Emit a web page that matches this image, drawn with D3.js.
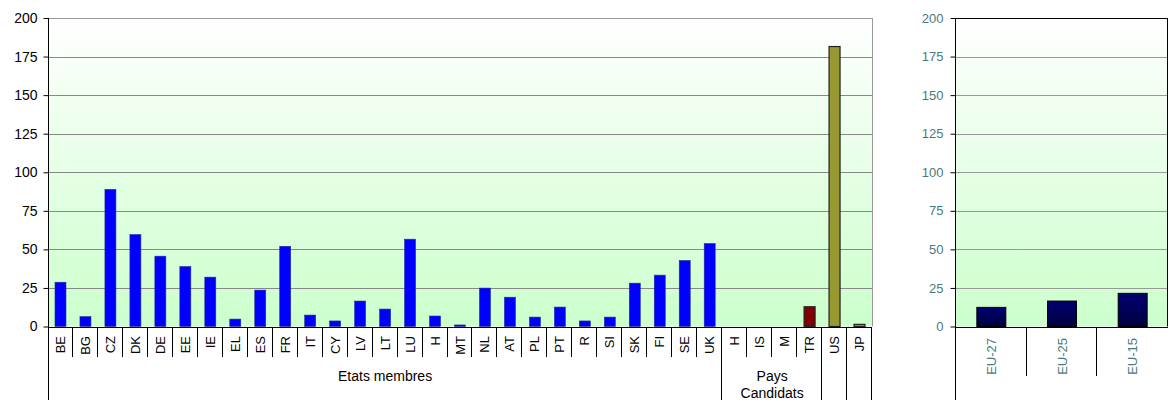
<!DOCTYPE html>
<html><head><meta charset="utf-8">
<script src="https://cdn.jsdelivr.net/npm/d3@7"></script>
<style>
body{margin:0;background:#fff;}
svg{display:block;font-family:"Liberation Sans",Arial,sans-serif;}
</style></head><body>
<svg id="c" width="1170" height="400"></svg>
<script>
const memberCats = ["BE","BG","CZ","DK","DE","EE","IE","EL","ES","FR","IT","CY","LV","LT","LU","H","MT","NL","AT","PL","PT","R","SI","SK","FI","SE","UK"];
const memberVals = [28.7,6.4,88.9,59.6,45.6,38.9,32,4.8,23.6,52,7.4,3.6,16.5,11.3,56.6,6.8,1,24.9,19,6.1,12.6,3.6,6.1,28.1,33.3,42.8,53.8];
const candCats = ["H","IS","M","TR"];
const candVals = [0,0,0,12.8];
const otherCats = ["US","JP"];
const otherVals = [181.5,1.4];
const euCats = ["EU-27","EU-25","EU-15"];
const euVals = [12.4,16.5,21.5];
const yTicks = [0,25,50,75,100,125,150,175,200];
const groupLabels = ["Etats membres","Pays|Candidats"];

const svg = d3.select("#c");
const defs = svg.append("defs");
const g1 = defs.append("linearGradient").attr("id","bg").attr("x1",0).attr("y1",0).attr("x2",0).attr("y2",1);
g1.append("stop").attr("offset","0%").attr("stop-color","#ffffff");
g1.append("stop").attr("offset","100%").attr("stop-color","#ccffcc");
const g2 = defs.append("linearGradient").attr("id","eu").attr("x1",0).attr("y1",0).attr("x2",0).attr("y2",1);
g2.append("stop").attr("offset","0%").attr("stop-color","#000070");
g2.append("stop").attr("offset","100%").attr("stop-color","#000040");

// ---------- Left chart ----------
const L = {x0:48, x1:872, top:18, bottom:326.5};
const allCats = memberCats.concat(candCats, otherCats);
const allVals = memberVals.concat(candVals, otherVals);
const colors = allCats.map((c,i)=> i<memberCats.length ? "#0000ff" : (i<memberCats.length+candCats.length ? "#800000" : "#999933"));
const strokes = allCats.map((c,i)=> i<memberCats.length ? "#2a2a9a" : "#222");
const x = d3.scaleBand().domain(d3.range(allCats.length)).range([L.x0,L.x1]).paddingInner(0.56).paddingOuter(0.28);
const y = d3.scaleLinear().domain([0,200]).range([L.bottom,L.top]);
const step = x.step();

svg.append("rect").attr("x",L.x0).attr("y",L.top).attr("width",L.x1-L.x0).attr("height",L.bottom-L.top).attr("fill","url(#bg)");
svg.append("g").selectAll("line").data(yTicks.filter(t=>t>0)).join("line")
  .attr("x1",L.x0).attr("x2",L.x1).attr("y1",d=>Math.round(y(d))+0.5).attr("y2",d=>Math.round(y(d))+0.5)
  .attr("stroke",d=>d===200?"#999":"#888").attr("stroke-width",1);
svg.append("line").attr("x1",L.x1+0.5).attr("x2",L.x1+0.5).attr("y1",L.top).attr("y2",L.bottom).attr("stroke","#999");

svg.append("g").selectAll("rect").data(allVals).join("rect")
  .filter(d=>d>0)
  .attr("x",(d,i,n)=>0).remove();
const barsData = allVals.map((v,i)=>({v,i})).filter(d=>d.v>0);
svg.append("g").selectAll("rect").data(barsData).join("rect")
  .attr("x",d=>x(d.i)).attr("width",x.bandwidth())
  .attr("y",d=>y(d.v)).attr("height",d=>y(0)-y(d.v))
  .attr("fill",d=>colors[d.i]).attr("stroke",d=>strokes[d.i])
  .attr("stroke-width",d=>d.i>=memberCats.length?1.2:0.6);

const yAxisL = d3.axisLeft(y).tickValues(yTicks).tickSize(5).tickPadding(6);
const ga = svg.append("g").attr("transform",`translate(${L.x0+0.5},0)`).call(yAxisL);
ga.select(".domain").remove();
ga.selectAll("line").attr("stroke","#000");
ga.selectAll("text").attr("font-size",14).attr("fill","#000").attr("font-family","Liberation Sans, Arial, sans-serif");
svg.append("line").attr("x1",L.x0+0.5).attr("x2",L.x0+0.5).attr("y1",L.top).attr("y2",400).attr("stroke","#000");
svg.append("line").attr("x1",L.x0).attr("x2",L.x1).attr("y1",Math.round(y(0))+0.5).attr("y2",Math.round(y(0))+0.5).attr("stroke","#000");

// separators
const sepY0 = Math.round(y(0));
const groupBounds = [memberCats.length, memberCats.length+candCats.length, memberCats.length+candCats.length+1, allCats.length];
d3.range(1,allCats.length+1).forEach(k=>{
  const xp = Math.round(L.x0 + k*step)-0.5;
  const long = groupBounds.includes(k);
  svg.append("line").attr("x1",xp).attr("x2",xp).attr("y1",sepY0).attr("y2",long?400:357).attr("stroke","#000");
});
// category labels
svg.append("g").selectAll("text").data(allCats).join("text")
  .attr("transform",(d,i)=>`translate(${x(i)+x.bandwidth()/2+4.5},336) rotate(-90)`)
  .attr("text-anchor","end").attr("font-size",13).attr("fill","#000").text(d=>d);
// group labels
const memCenter = L.x0 + memberCats.length*step/2;
svg.append("text").attr("x",memCenter).attr("y",381).attr("text-anchor","middle").attr("font-size",14).text(groupLabels[0]);
const candCenter = L.x0 + (memberCats.length + candCats.length/2)*step;
groupLabels[1].split("|").forEach((t,j)=>{
  svg.append("text").attr("x",candCenter).attr("y",381+17*j).attr("text-anchor","middle").attr("font-size",14).text(t);
});

// ---------- Right chart ----------
const R = {x0:956, x1:1168, top:18, bottom:326.5};
const x2 = d3.scaleBand().domain(euCats).range([R.x0,R.x1]).paddingInner(0.59).paddingOuter(0.295);
const y2 = d3.scaleLinear().domain([0,200]).range([R.bottom,R.top]);
const teal = "#4a7a7a";
svg.append("rect").attr("x",R.x0).attr("y",R.top).attr("width",R.x1-R.x0).attr("height",R.bottom-R.top).attr("fill","url(#bg)");
svg.append("g").selectAll("line").data(yTicks.filter(t=>t>0&&t<200)).join("line")
  .attr("x1",R.x0).attr("x2",R.x1).attr("y1",d=>Math.round(y2(d))+0.5).attr("y2",d=>Math.round(y2(d))+0.5)
  .attr("stroke","#999").attr("stroke-width",1);
svg.append("line").attr("x1",R.x0).attr("x2",R.x1).attr("y1",Math.round(y2(200))+0.5).attr("y2",Math.round(y2(200))+0.5).attr("stroke","#000");
svg.append("line").attr("x1",R.x1-0.5).attr("x2",R.x1-0.5).attr("y1",R.top).attr("y2",R.bottom).attr("stroke","#000");
svg.append("g").selectAll("rect").data(euVals).join("rect")
  .attr("x",(d,i)=>x2(euCats[i])).attr("width",x2.bandwidth())
  .attr("y",d=>y2(d)).attr("height",d=>y2(0)-y2(d))
  .attr("fill","url(#eu)").attr("stroke","#000").attr("stroke-width",1);
const ga2 = svg.append("g").attr("transform",`translate(${R.x0-0.5},0)`).call(d3.axisLeft(y2).tickValues(yTicks).tickSize(5).tickPadding(7));
ga2.select(".domain").remove();
ga2.selectAll("line").attr("stroke","#000");
ga2.selectAll("text").attr("font-size",13).attr("fill",teal).attr("font-family","Liberation Sans, Arial, sans-serif");
svg.append("line").attr("x1",R.x0-0.5).attr("x2",R.x0-0.5).attr("y1",R.top).attr("y2",400).attr("stroke","#000");
svg.append("line").attr("x1",R.x0).attr("x2",R.x1).attr("y1",Math.round(y2(0))+0.5).attr("y2",Math.round(y2(0))+0.5).attr("stroke","#000");
const step2 = x2.step();
[1,2].forEach(k=>{
  const xp = Math.round(R.x0 + k*step2)-0.5;
  svg.append("line").attr("x1",xp).attr("x2",xp).attr("y1",Math.round(y2(0))).attr("y2",376).attr("stroke","#000");
});
svg.append("g").selectAll("text").data(euCats).join("text")
  .attr("transform",d=>`translate(${x2(d)+x2.bandwidth()/2+4.5},338) rotate(-90)`)
  .attr("text-anchor","end").attr("font-size",13).attr("fill",teal).text(d=>d);
</script>
</body></html>
